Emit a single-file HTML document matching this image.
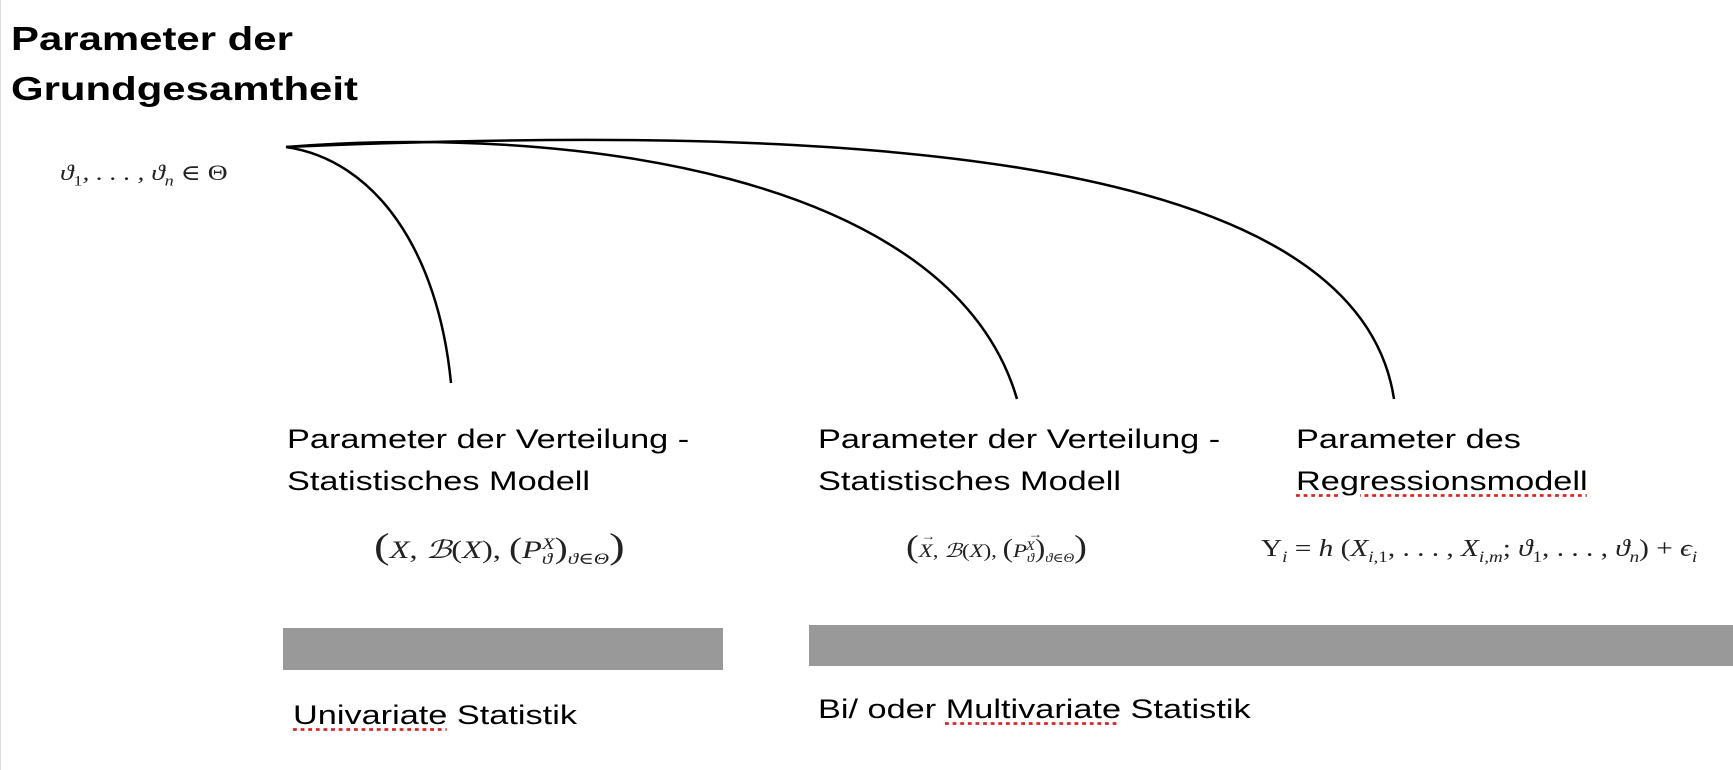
<!DOCTYPE html>
<html><head><meta charset="utf-8"><style>
body{margin:0;width:1733px;height:770px;background:#fff;position:relative;overflow:hidden;font-family:"Liberation Sans",sans-serif;}
.t{position:absolute;white-space:nowrap;color:#000;transform:scaleX(1.27);transform-origin:0 0;}
.m{position:absolute;white-space:nowrap;font-family:"Liberation Serif","DejaVu Serif",serif;color:#222;transform-origin:0 0;}
.i{font-style:italic}
.bar{position:absolute;background:#999;}
.u{text-decoration:underline dotted #d22;text-underline-offset:4px;}
sub,sup{font-size:65%}
.vx{position:relative;display:inline-block}
.vx:after{content:"\2192";position:absolute;left:2px;top:-12px;font-size:12px;font-style:normal}
</style></head><body>
<div style="position:absolute;left:0;top:0;width:1px;height:770px;background:#ddd"></div>
<div class="t" style="left:11px;top:14px;font-size:33px;font-weight:bold;line-height:50px;transform:scaleX(1.27)">Parameter der<br>Grundgesamtheit</div>
<div class="m i" style="left:60px;top:160px;font-size:22px;transform:scaleX(1.25)">&#977;<sub style="font-style:normal">1</sub>, . . . , &#977;<sub>n</sub> <span style="font-style:normal">&isin; &Theta;</span></div>
<svg width="1733" height="770" style="position:absolute;left:0;top:0">
<g fill="none" stroke="#000" stroke-width="2.5">
<path d="M286,147 C375,160 438,250 451,383"/>
<path d="M286,147 C560,125 950,170 1017,399"/>
<path d="M286,147 C800,125 1355,140 1394,399"/>
</g></svg>
<div class="t" style="left:287px;top:418px;font-size:27px;line-height:42px">Parameter der Verteilung -<br>Statistisches Modell</div>
<div class="t" style="left:818px;top:418px;font-size:27px;line-height:42px">Parameter der Verteilung -<br>Statistisches Modell</div>
<div class="t" style="left:1296px;top:418px;font-size:27px;line-height:42px">Parameter des<br><span class="u">Regressionsmodell</span></div>
<div class="m" style="left:374px;top:525px;font-size:25px;transform:scaleX(1.3)"><span style="font-size:36px">(</span><i>X</i>, <i>&#x212C;</i>(<i>X</i>), <span style="font-size:30px">(</span><i>P</i><sub class="i">&#977;</sub><sup class="i" style="margin-left:-8px">X</sup><span style="font-size:30px">)</span><sub class="i">&#977;&isin;&Theta;</sub><span style="font-size:36px">)</span></div>
<div class="m" style="left:906px;top:528px;font-size:19px;transform:scaleX(1.2)"><span style="font-size:32px">(</span><i class="vx">X</i>, <i>&#x212C;</i>(<i>X</i>), <span style="font-size:26px">(</span><i>P</i><sub class="i">&#977;</sub><sup class="i vx" style="margin-left:-7px">X</sup><span style="font-size:26px">)</span><sub class="i">&#977;&isin;&Theta;</sub><span style="font-size:32px">)</span></div>
<div class="m" style="left:1261px;top:536px;font-size:24px;transform:scaleX(1.22)">Y<sub class="i">i</sub> = <i>h</i> (<i>X</i><sub><i>i</i>,1</sub>, . . . , <i>X</i><sub class="i">i,m</sub>; <i>&#977;</i><sub>1</sub>, . . . , <i>&#977;</i><sub class="i">n</sub>) + <i>&#1013;</i><sub class="i">i</sub></div>
<div class="bar" style="left:283px;top:628px;width:440px;height:42px"></div>
<div class="bar" style="left:809px;top:625px;width:924px;height:41px"></div>
<div class="t" style="left:293px;top:700px;font-size:27px"><span class="u">Univariate</span> Statistik</div>
<div class="t" style="left:818px;top:694px;font-size:27px">Bi/ oder <span class="u">Multivariate</span> Statistik</div>
</body></html>
